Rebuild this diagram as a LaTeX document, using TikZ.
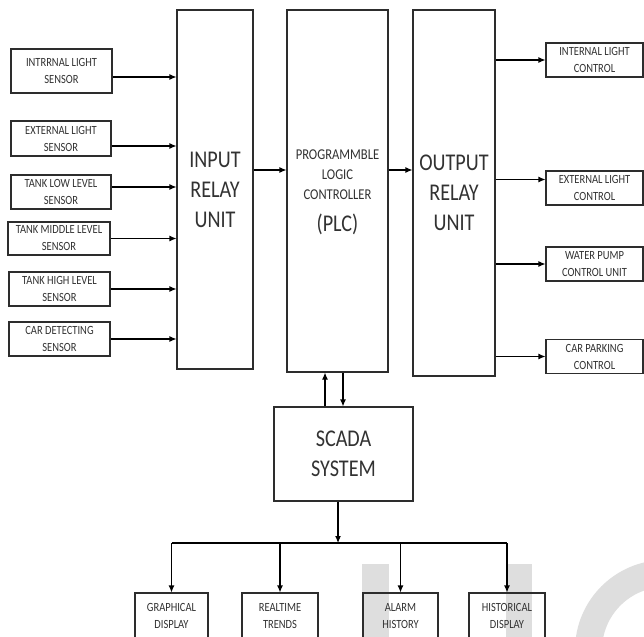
\documentclass[tikz,border=0pt]{standalone}
\usepackage{fontspec}
\setmainfont[FakeStretch=0.84]{Carlito}
\usetikzlibrary{arrows.meta}
\definecolor{wm}{RGB}{222,222,222}
\definecolor{ln}{RGB}{45,45,45}
\definecolor{tx}{RGB}{50,50,50}
\tikzset{
  box/.style={draw=ln, line width=1.1pt, inner sep=0pt, align=center, text=tx},
  small/.style={font=\fontsize{12.5}{17}\selectfont},
  big/.style={font=\fontsize{24}{30}\selectfont},
  mid/.style={font=\fontsize{15}{20}\selectfont, text=tx, inner sep=0pt, anchor=base},
  arr/.style={draw=black, line width=1.1pt, -{Latex[length=7pt,width=6pt]}},
  ln/.style={draw=black, line width=1.1pt}
}
\begin{document}
\begin{tikzpicture}[x=1pt,y=-1pt]
\useasboundingbox (0,0) rectangle (644,636);
\fill[white] (0,0) rectangle (644,636);
\clip (0,0) rectangle (644,636);
% watermark
\fill[wm] (362,564) rectangle (389,640);
\fill[wm] (506,564) rectangle (532,640);
\fill[wm, even odd rule] (665,650) circle[radius=90] (665,650) circle[radius=63];
% sensors
\node[box, small, minimum width=101pt, minimum height=44pt] (s1) at (61.5,71) {INTRRNAL LIGHT\\SENSOR};
\node[box, small, minimum width=100pt, minimum height=35pt] (s2) at (61,138.5) {EXTERNAL LIGHT\\SENSOR};
\node[box, small, minimum width=100pt, minimum height=34pt] (s3) at (61,192) {TANK LOW LEVEL\\SENSOR};
\node[box, small, minimum width=102pt, minimum height=33pt] (s4) at (59,238.5) {TANK MIDDLE LEVEL\\SENSOR};
\node[box, small, minimum width=101pt, minimum height=34pt] (s5) at (59.5,289) {TANK HIGH LEVEL\\SENSOR};
\node[box, small, minimum width=101pt, minimum height=34pt] (s6) at (59.5,339) {CAR DETECTING\\SENSOR};
% main units
\node[box, big, minimum width=76pt, minimum height=359pt] (in) at (215,189.5) {INPUT\\RELAY\\UNIT};
\node[box, minimum width=101pt, minimum height=362pt] (plc) at (337.5,191) {};
\node[mid] (p1) at (337.5,160) {PROGRAMMBLE};
\node[mid] (p2) at (337.5,180) {LOGIC};
\node[mid] (p3) at (337.5,200) {CONTROLLER};
\node[mid, font=\fontsize{24}{30}\selectfont] (p4) at (337.5,231) {(PLC)};
\node[box, big, minimum width=82pt, minimum height=366pt] (out) at (454,193) {OUTPUT\\RELAY\\UNIT};
% outputs
\node[box, small, minimum width=97pt, minimum height=34pt] (o1) at (594.5,60) {INTERNAL LIGHT\\CONTROL};
\node[box, small, minimum width=97pt, minimum height=34pt] (o2) at (594.5,188) {EXTERNAL LIGHT\\CONTROL};
\node[box, small, minimum width=97pt, minimum height=34pt] (o3) at (594.5,264) {WATER PUMP\\CONTROL UNIT};
\node[box, small, minimum width=97pt, minimum height=34pt] (o4) at (594.5,356.5) {CAR PARKING\\CONTROL};
% scada
\node[box, big, minimum width=139pt, minimum height=94pt] (scada) at (343.5,454) {SCADA\\SYSTEM};
% bottom
\node[box, small, minimum width=73pt, minimum height=46pt] (b1) at (171.5,616) {GRAPHICAL\\DISPLAY};
\node[box, small, minimum width=76pt, minimum height=46pt] (b2) at (280,616) {REALTIME\\TRENDS};
\node[box, small, minimum width=75pt, minimum height=46pt] (b3) at (400.5,616) {ALARM\\HISTORY};
\node[box, small, minimum width=76pt, minimum height=46pt] (b4) at (507,616) {HISTORICAL\\DISPLAY};
% sensor arrows
\draw[arr] ([yshift=-6pt]s1.east) coordinate (a1) -- (a1 -| in.west);
\draw[arr] ([yshift=-7.5pt]s2.east) coordinate (a2) -- (a2 -| in.west);
\draw[arr] ([yshift=5pt]s3.east) coordinate (a3) -- (a3 -| in.west);
\draw[arr] (s4.east) -- (s4.east -| in.west);
\draw[arr] (s5.east) -- (s5.east -| in.west);
\draw[arr] (s6.east) -- (s6.east -| in.west);
% main arrows
\draw[arr] ([yshift=19.5pt]in.east) coordinate (m1) -- (m1 -| plc.west);
\draw[arr] ([yshift=21pt]plc.east) coordinate (m2) -- (m2 -| out.west);
% output arrows
\draw[arr] (o1.west -| out.east) -- (o1.west);
\coordinate (c2) at ([yshift=8.5pt]o2.west);
\draw[arr] (c2 -| out.east) -- (c2);
\draw[arr] (o3.west -| out.east) -- (o3.west);
\draw[arr] (o4.west -| out.east) -- (o4.west);
% plc <-> scada
\draw[arr] ([xshift=-18.5pt]scada.north) coordinate (u1) -- (u1 |- plc.south);
\draw[arr] ([xshift=-0.5pt]scada.north |- plc.south) -- ([xshift=-0.5pt]scada.north);
% scada to bus
\coordinate (bus) at (338,543);
\draw[arr] ([xshift=-5.5pt]scada.south) -- (bus);
\draw[ln] (b1.north |- bus) -- (b4.north |- bus);
\draw[arr] (b1.north |- bus) -- (b1.north);
\draw[arr] (b2.north |- bus) -- (b2.north);
\draw[arr] (b3.north |- bus) -- (b3.north);
\draw[arr] (b4.north |- bus) -- (b4.north);
\end{tikzpicture}
\end{document}
